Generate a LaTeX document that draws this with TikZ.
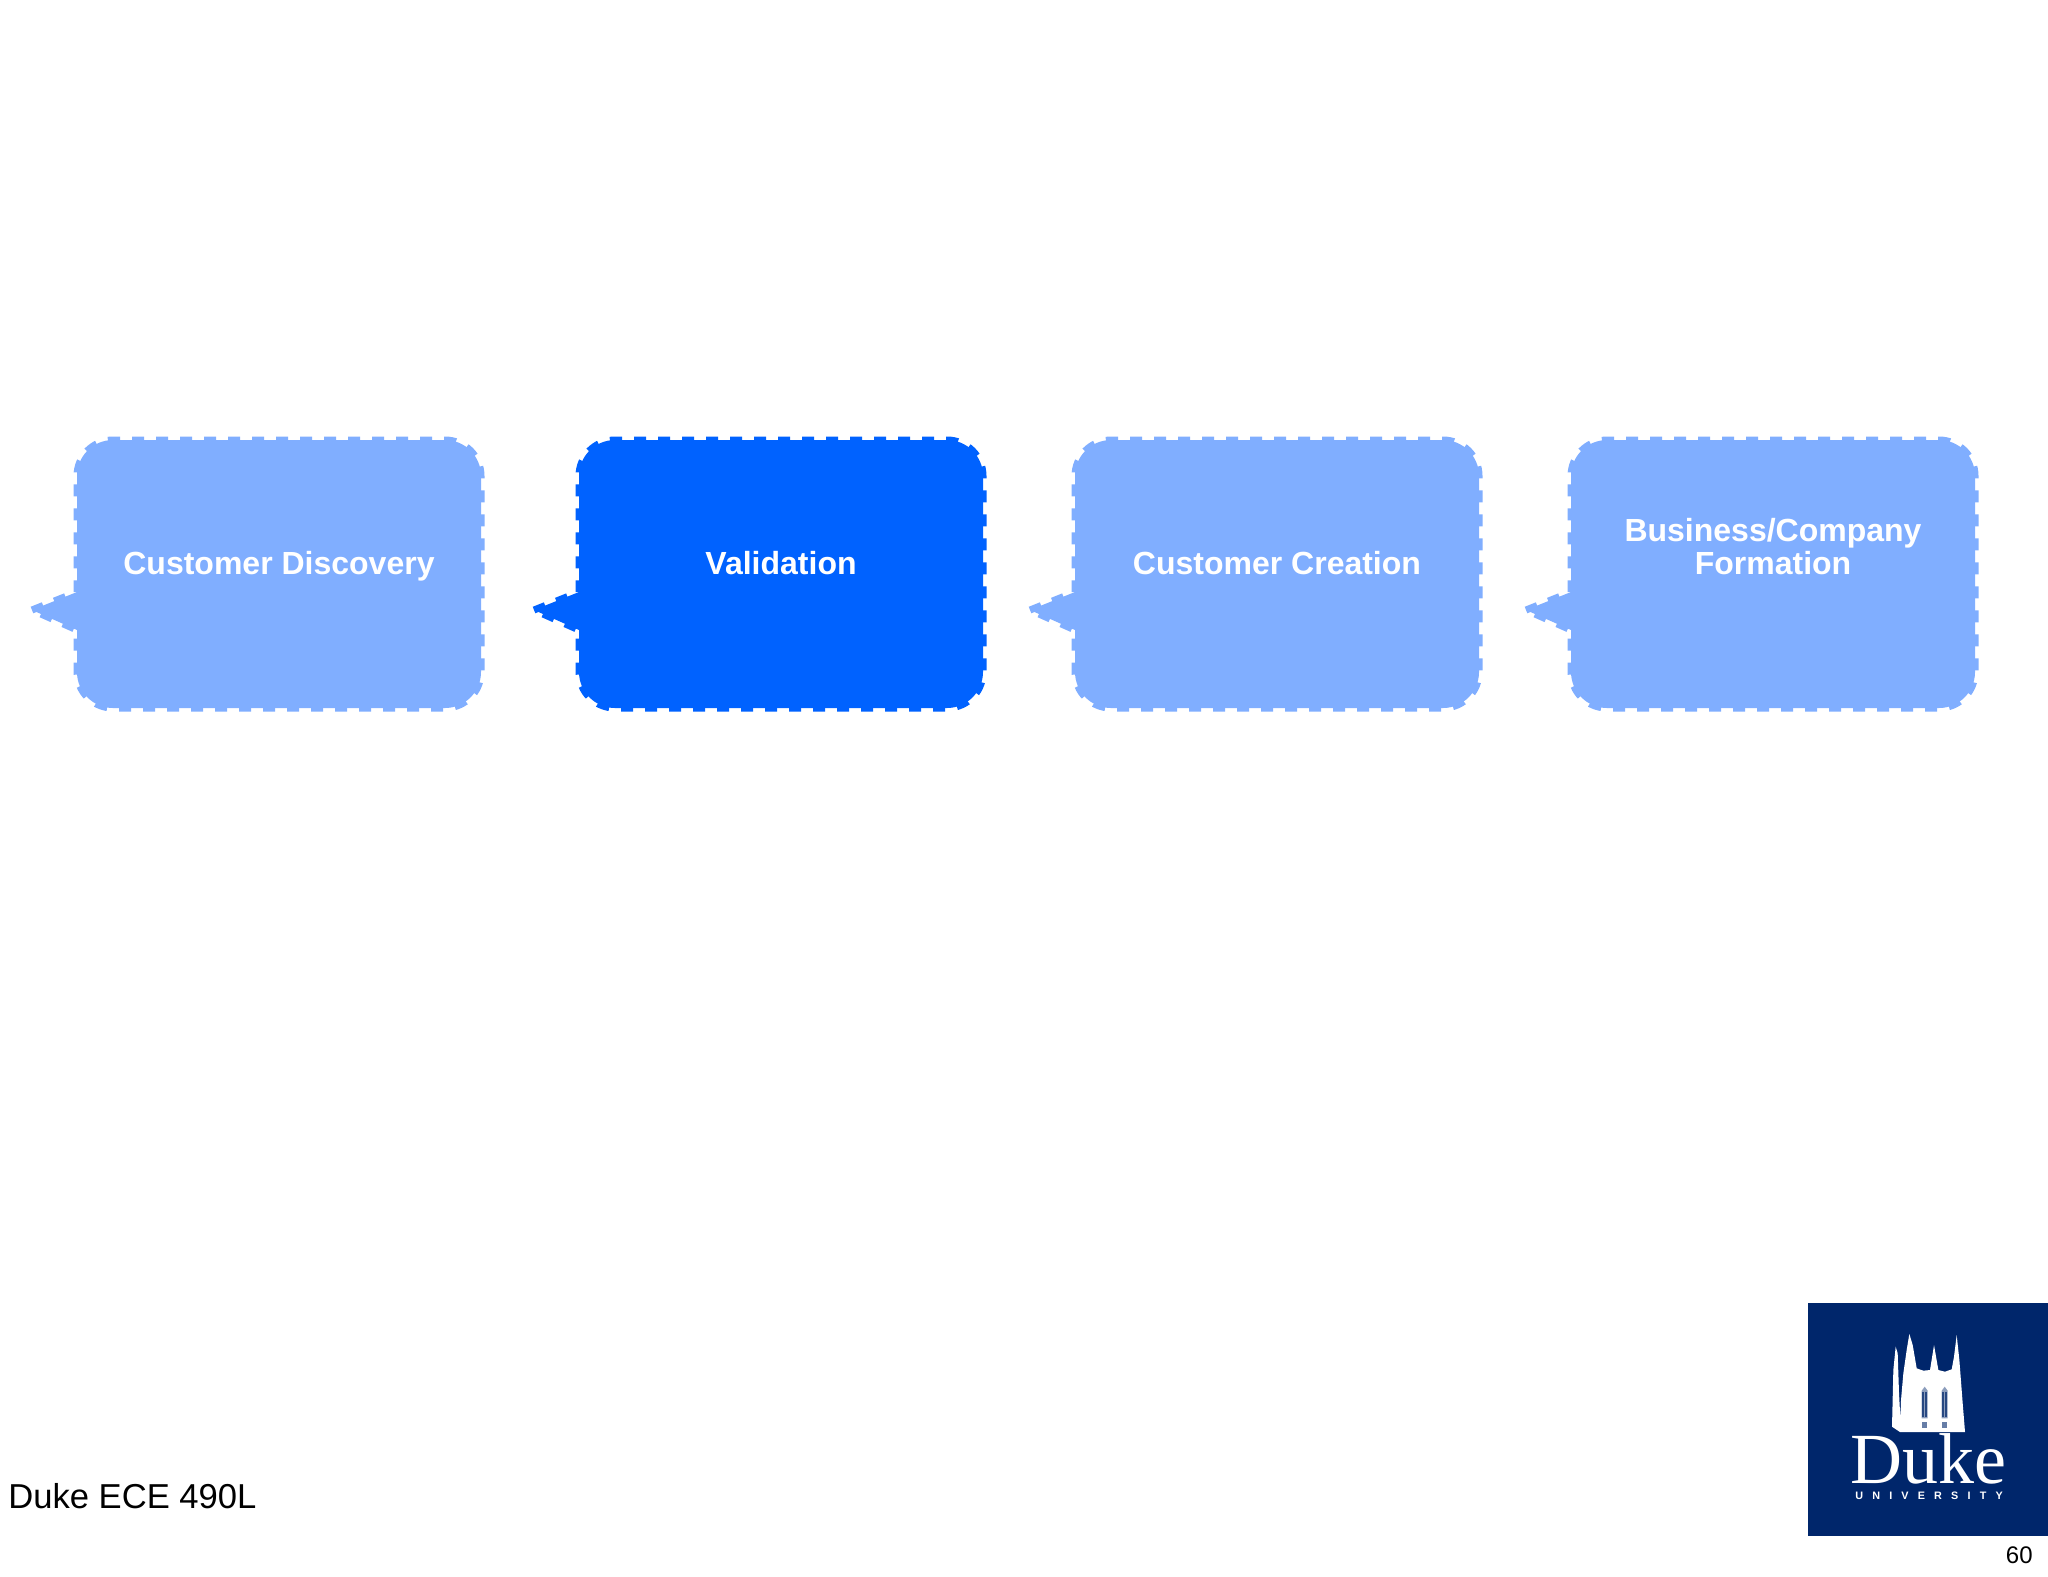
\documentclass[tikz,border=0pt]{standalone}
\usepackage{fontspec}
\setmainfont{Liberation Sans}
\newfontfamily\logoserif{Liberation Serif}
\newfontfamily\logocaps[LetterSpace=85]{Liberation Sans Bold}
\definecolor{lightblue}{HTML}{80AEFF}
\definecolor{deepblue}{HTML}{0062FF}
\definecolor{dukenavy}{HTML}{00266B}
\tikzset{
  bubbleedge/.style={line width=3.5pt,dash pattern=on 6pt off 6pt,line join=miter},
  bubbletext/.style={font=\bfseries\fontsize{16}{16.3}\selectfont,text=white,align=center,inner sep=0pt,anchor=base},
  slabel/.style={inner sep=0pt,text=black},
}
\newcommand{\bubble}[5]{%
  \fill[#4] (#3,610) -- (#2,592) [rounded corners=18pt] -- (#2,440) -- (#2+404,440) -- (#2+404,708) -- (#2,708) [sharp corners] -- (#2,630) -- cycle;
  \draw[#4,bubbleedge] (#3,610) -- (#2,592) [rounded corners=18pt] -- (#2,440) -- (#2+404,440) -- (#2+404,708) -- (#2,708) [sharp corners] -- (#2,630) -- cycle;
  \node[bubbletext] (#1) at (#2+202,574) {#5};
}
\begin{document}
\begin{tikzpicture}[x=0.5pt,y=-0.5pt]
\useasboundingbox (0,0) rectangle (2048,1576);
\fill[white] (0,0) rectangle (2048,1576);
\bubble{discovery}{77}{32}{lightblue}{Customer Discovery}
\bubble{validation}{579}{534}{deepblue}{Validation}
\bubble{creation}{1075}{1030}{lightblue}{Customer Creation}
\bubble{formation}{1571}{1526}{lightblue}{Business/Company\\Formation}
\node[slabel,anchor=base west,font=\fontsize{17.3}{20}\selectfont] (course) at (8,1508) {Duke ECE 490L};
\node[slabel,anchor=base east,font=\fontsize{12}{14}\selectfont] (page) at (2033,1563) {60};
% logo
\fill[dukenavy] (1808,1303) rectangle (2048,1536);
\begin{scope}[shift={(1870,1320)},x=0.16667pt,y=-0.16667pt]
\fill[white] (66,320) -- (70,150) -- (77,80) -- (83,100) -- (87,220) -- (91,295) -- (93,240) -- (100,160) -- (110,90) -- (118,42) -- (128,75) -- (140,145) -- (160,152) -- (180,150) -- (192,75) -- (205,150) -- (225,155) -- (245,148) -- (252,110) -- (260,45) -- (268,120) -- (278,250) -- (285,336) -- (90,336) -- cycle;
\foreach \wx in {155,215}{
  \fill[dukenavy!45!white] (\wx,212) -- (\wx+9,200) -- (\wx+18,212) -- (\wx+18,295) -- (\wx,295) -- cycle;
  \fill[dukenavy!85!white] (\wx+2,215) rectangle (\wx+6,290);
  \fill[dukenavy!85!white] (\wx+11,215) rectangle (\wx+15,290);
  \fill[dukenavy!60!white] (\wx+1,305) rectangle (\wx+17,323);
}
\end{scope}
\node[inner sep=0,text=white,anchor=base,font=\logoserif\fontsize{36}{36}\selectfont] (logoname) at (1928,1483) {Duke};
\node[inner sep=0,text=white,anchor=base,font=\logocaps\fontsize{5.4}{6}\selectfont] (logouni) at (1929,1499) {UNIVERSITY};
\end{tikzpicture}
\end{document}
